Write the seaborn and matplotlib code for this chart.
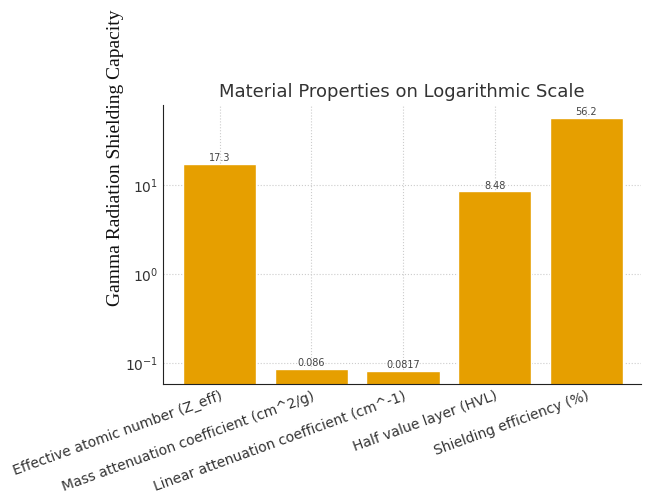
import matplotlib
matplotlib.use("Agg")
import matplotlib.pyplot as plt
import seaborn as sns
import pandas as pd

properties = [
    "Effective atomic number (Z_eff)",
    "Mass attenuation coefficient (cm^2/g)",
    "Linear attenuation coefficient (cm^-1)",
    "Half value layer (HVL)",
    "Shielding efficiency (%)",
]
values = [17.3, 0.086, 0.0817, 8.48, 56.2]
value_labels = ["17.3", "0.086", "0.0817", "8.48", "56.2"]

df = pd.DataFrame({"Property": properties, "Value": values})

sns.set_style("white")
fig = plt.figure(figsize=(6.51, 5.0), dpi=100)
ax = fig.add_axes([0.25, 0.232, 0.735, 0.558])

sns.barplot(data=df, x="Property", y="Value", color="#E69F00", saturation=1,
            width=0.8, ax=ax)
ax.set_yscale("log")
ax.set_ylim(0.0582, 79)
ax.set_xlim(-0.62, 4.6)

for i, (v, lab) in enumerate(zip(values, value_labels)):
    ax.text(i, v * 1.02, lab, ha="center", va="bottom", fontsize=7, color="#444444")

ax.grid(True, which="major", linestyle=":", color="#cccccc", linewidth=0.8)
ax.set_axisbelow(True)
sns.despine(ax=ax)
ax.spines["left"].set_color("#222222")
ax.spines["bottom"].set_color("#222222")
ax.tick_params(axis="both", which="both", direction="in", color="#222222")
ax.tick_params(axis="y", which="major", length=4, labelsize=10, labelcolor="#333333")
ax.tick_params(axis="y", which="minor", length=2)
ax.tick_params(axis="x", length=4, labelsize=10, labelcolor="#333333")
plt.setp(ax.get_xticklabels(), rotation=20, ha="right", rotation_mode="anchor")

ax.set_title("Material Properties on Logarithmic Scale", fontsize=13,
             color="#333333", pad=6)
ax.set_xlabel("")
ax.set_ylabel("Gamma Radiation Shielding Capacity", fontsize=14,
              family="Liberation Serif", color="#111111")
ax.yaxis.set_label_coords(-0.08, 0.81)

fig.savefig("out.png", dpi=100)
